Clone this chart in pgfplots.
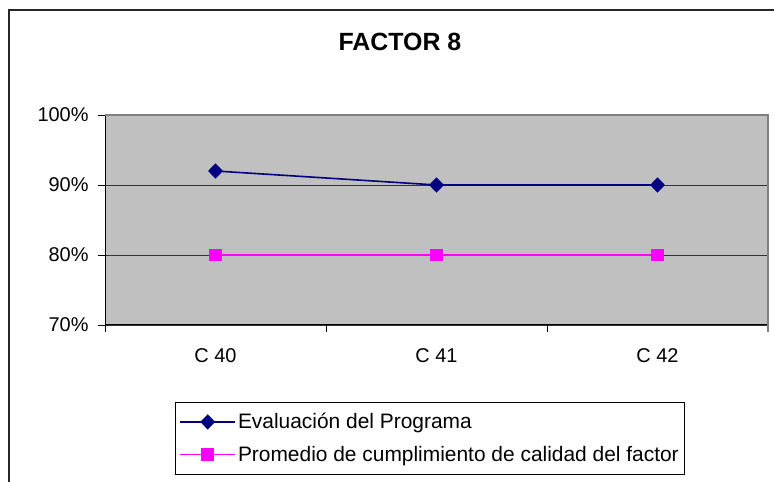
\documentclass[border=0pt]{standalone}
\usepackage{pgfplots}
\pgfplotsset{compat=1.18}
\usepackage{fontspec}
\setmainfont{Liberation Sans}
\definecolor{plotgray}{HTML}{C0C0C0}
\definecolor{navyc}{HTML}{000080}
\definecolor{magc}{HTML}{FF00FF}
\begin{document}
\begin{tikzpicture}[x=1bp,y=1bp]
\useasboundingbox (0,0) rectangle (774,482);
% outer frame
\draw[line width=1.6bp,black!85] (9,-20) -- (9,472) -- (800,472);
\node[font=\fontsize{25}{28}\selectfont\bfseries] at (400,440) {FACTOR 8};
\begin{axis}[
  at={(105bp,157bp)}, anchor=south west,
  scale only axis, width=663bp, height=210bp,
  xmin=-0.5, xmax=2.5, ymin=70, ymax=100,
  axis background/.style={fill=plotgray},
  axis lines=left, axis line style={-, black, line width=1bp},
  ytick={70,80,90,100},
  yticklabel={\pgfmathprintnumber{\tick}\%},
  ymajorgrids, grid style={black!80, line width=0.9bp},
  xtick={-0.5,0.5,1.5,2.5}, xticklabels={},
  extra x ticks={0,1,2}, extra x tick labels={C 40,C 41,C 42},
  extra x tick style={major tick length=0pt, grid=none},
  tick align=outside, major tick length=7bp,
  tick style={black, line width=0.8bp},
  /pgf/number format/assume math mode=true,
  ticklabel style={font=\fontsize{20}{23}\selectfont},
  xticklabel style={yshift=-20bp},
  yticklabel style={xshift=-6bp},
  clip=false,
  legend style={at={(0.1056,-0.367)}, anchor=north west, draw=black, line width=0.8bp,
    font=\fontsize{21}{24}\selectfont, row sep=12bp, inner xsep=4bp, inner ysep=9bp,
    /tikz/every even column/.append style={column sep=1bp},
    /tikz/every odd column/.append style={column sep=0bp}},
  legend cell align=left,
  legend image code/.code={\draw[#1, mark repeat=2, mark phase=2] plot coordinates {(0bp,0bp) (27.5bp,0bp) (55bp,0bp)};},
]
\draw[black!50, line width=2bp] (rel axis cs:0,1) -- (rel axis cs:1,1) -- (rel axis cs:1,0);
\draw[black!50, line width=1.2bp] (rel axis cs:1,0) -- ([yshift=-7bp]rel axis cs:1,0);
\addplot[navyc, line width=1.6bp, mark=diamond*, mark size=6.5bp, mark options={fill=navyc, draw=navyc, xscale=1.3}]
  coordinates {(0,92) (1,90) (2,90)};
\addlegendentry{Evaluación del Programa}
\addplot[magc, line width=1.6bp, mark=square*, mark size=5.5bp, mark options={fill=magc, draw=magc}]
  coordinates {(0,80) (1,80) (2,80)};
\addlegendentry{Promedio de cumplimiento de calidad del factor\hspace{8bp}}
\end{axis}
\end{tikzpicture}
\end{document}
